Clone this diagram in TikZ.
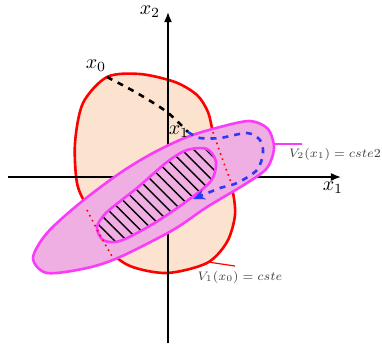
\documentclass[tikz,border=0pt]{standalone}
\definecolor{vunred}{RGB}{255,0,0}
\definecolor{vunfill}{RGB}{251,227,208}
\definecolor{vdeuxmag}{RGB}{250,60,250}
\definecolor{vdeuxfill}{RGB}{240,175,226}
\definecolor{trajblue}{RGB}{45,55,250}
\usepackage{amsmath}
\usepackage{xcolor}
\usepackage{tikz}
\usetikzlibrary{arrows.meta, patterns.meta, positioning}

\begin{document}
\begin{tikzpicture}[x=0.5pt, y=-0.5pt,
    axis/.style={draw=black, line width=0.8pt, -{Latex[length=5pt,width=4pt]}},
    levelone/.style={draw=vunred, fill=vunfill, line width=1.3pt},
    leveltwo/.style={draw=vdeuxmag, fill=vdeuxfill, line width=1.3pt},
    hidden/.style={draw=vunred, dotted, line width=0.8pt},
    lbl/.style={inner sep=0pt, font=\scriptsize, scale=0.88, text=black!75}]
        \useasboundingbox (0,0) rectangle (382,345);
        \draw[levelone] plot[smooth cycle] coordinates {(140,74) (175,82) (197,95) (208,112) (213,132)
            (222,160) (232,188) (235,215) (227,242) (207,263) (167,273) (130,266) (108,248)
            (87,207) (77,183) (75,143) (83,103) (107,77)};
        \draw[axis] (8,177) -- (341,177);
        \draw[axis] (168,343) -- (168,12);
        \draw[leveltwo] plot[smooth cycle] coordinates {(33,258) (47,233) (80,203) (120,173) (153,153)
            (187,137) (220,127) (250,121) (268,129) (274,148) (267,168) (247,183) (207,207)
            (173,230) (120,257) (87,268) (47,273)};
        \draw[draw=vdeuxmag, line width=1.3pt, pattern={Lines[angle=-45, distance=4.3pt, line width=0.7pt]}]
            plot[smooth cycle] coordinates {(97,227) (107,212) (137,188) (167,162) (187,150) (207,149)
            (216,162) (211,181) (187,201) (153,224) (120,241) (103,240)};
        \draw[hidden] plot[smooth] coordinates {(213,132) (222,158) (232,185)};
        \draw[hidden] plot[smooth] coordinates {(87,210) (100,235) (113,258)};
        \coordinate (xzeropt) at (107,77);
        \coordinate (xonept) at (188,132);
        \draw[black, dashed, line width=1.3pt] plot[smooth] coordinates {(xzeropt) (137,93) (167,112) (xonept)};
        \draw[trajblue, dashed, line width=1.3pt, -{Stealth[length=6pt,width=5pt]}]
            plot[smooth] coordinates {(xonept) (200,138) (220,138) (247,133) (260,140) (263,153)
            (257,170) (237,183) (220,188) (203,195) (193,199)};
        \node (xtwo) at (150,12) {$x_2$};
        \node (xone) at (333,188) {$x_1$};
        \node (xzero) at (96,66) {$x_0$};
        \node (xonelbl) at (179,132) {$x_1$};
        \node[lbl] (vtwo) at (335,154) {$V_2(x_1) = cste2$};
        \node[lbl] (vone) at (240,277) {$V_1(x_0) = cste$};
        \coordinate (vtwoa) at (273,144);
        \coordinate (vtwob) at (302,144);
        \coordinate (vonea) at (208,262);
        \coordinate (voneb) at (235,266);
        \draw[vdeuxmag, line width=0.6pt] (vtwoa) -- (vtwob);
        \draw[vunred, line width=0.6pt] (vonea) -- (voneb);
      \end{tikzpicture}
\end{document}
